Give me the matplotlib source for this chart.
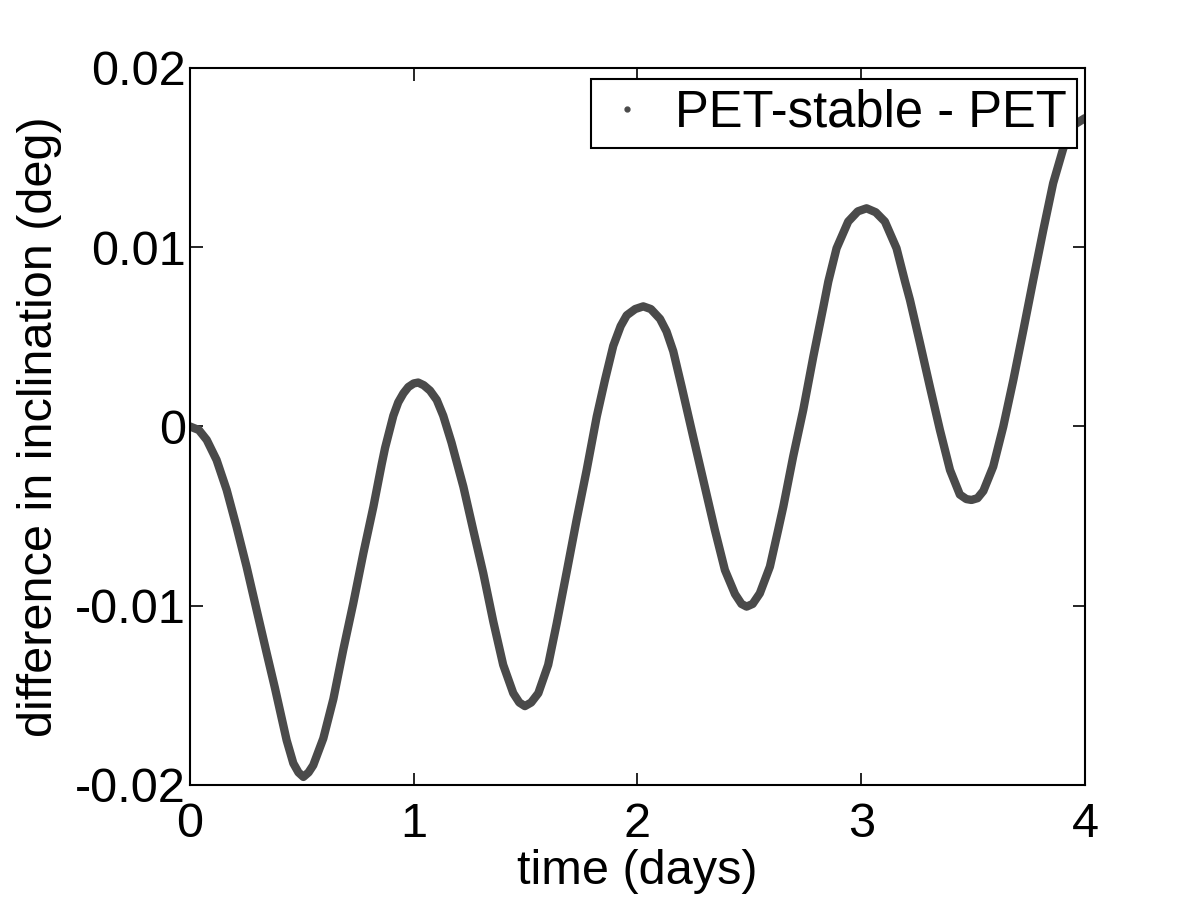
import matplotlib
matplotlib.use("Agg")
import matplotlib.pyplot as plt
from matplotlib.lines import Line2D

'''
    Inclination difference PET-stable minus PET, read off the reference picture
'''

# time (days)
time_days = [0.0, 0.04, 0.075, 0.119, 0.164, 0.208, 0.253, 0.298, 0.343, 0.380,
             0.432, 0.462, 0.485, 0.507, 0.530, 0.551, 0.596, 0.641, 0.685, 0.730,
             0.775, 0.820, 0.857, 0.872, 0.909, 0.931, 0.954, 0.976, 1.000, 1.020,
             1.045, 1.073, 1.103, 1.132, 1.169, 1.184, 1.222, 1.266, 1.311, 1.356,
             1.400, 1.445, 1.472, 1.497, 1.525, 1.557, 1.601, 1.639, 1.684, 1.728,
             1.773, 1.818, 1.855, 1.892, 1.925, 1.952, 1.990, 2.026, 2.060, 2.101,
             2.130, 2.160, 2.198, 2.249, 2.294, 2.346, 2.391, 2.436, 2.465, 2.488,
             2.515, 2.547, 2.592, 2.629, 2.652, 2.696, 2.741, 2.786, 2.831, 2.853,
             2.890, 2.942, 2.985, 3.024, 3.065, 3.106, 3.158, 3.196, 3.218, 3.263,
             3.307, 3.352, 3.397, 3.441, 3.470, 3.493, 3.520, 3.546, 3.590, 3.635,
             3.680, 3.725, 3.769, 3.814, 3.858, 3.903, 3.948, 4.0]

# difference in inclination (millidegrees, scaled below)
diff_mdeg = [0.0, -0.2, -0.75, -1.87, -3.54, -5.59, -7.82, -10.24, -12.65, -14.6,
             -17.5, -18.79, -19.3, -19.55, -19.3, -18.9, -17.4, -15.2, -12.47, -9.86,
             -7.07, -4.47, -2.1, -1.2, 0.6, 1.35, 1.85, 2.2, 2.4, 2.45,
             2.3, 2.0, 1.48, 0.6, -0.9, -1.6, -3.36, -5.77, -8.19, -10.9,
             -13.3, -14.88, -15.4, -15.6, -15.4, -14.88, -13.3, -11.0, -8.1, -5.22,
             -2.43, 0.55, 2.6, 4.5, 5.6, 6.2, 6.55, 6.7, 6.55, 6.0,
             5.3, 4.2, 2.2, -0.57, -2.98, -5.77, -8.01, -9.35, -9.9, -10.05,
             -9.9, -9.31, -7.82, -5.77, -4.47, -1.68, 0.92, 3.89, 6.68, 8.08,
             9.94, 11.43, 12.0, 12.17, 11.95, 11.43, 9.94, 8.08, 7.06, 4.64,
             2.22, -0.20, -2.43, -3.8, -4.05, -4.1, -4.0, -3.6, -2.24, -0.01,
             2.59, 5.38, 8.17, 10.96, 13.57, 15.5, 16.8, 17.2]

diff_deg = [v * 1e-3 for v in diff_mdeg]

x_ticks = [0, 1, 2, 3, 4]
y_ticks = [-0.02, -0.01, 0, 0.01, 0.02]
y_ticklabels = ["-0.02", "-0.01", "0", "0.01", "0.02"]

line_color = "#4a4a4a"

plt.rcParams['font.family'] = ['Liberation Sans', 'DejaVu Sans']

fig = plt.figure(figsize=(12, 9), dpi=100)
ax = fig.add_axes([0.1583, 0.1278, 0.7458, 0.7967])

ax.plot(time_days, diff_deg, '-', color=line_color, lw=6.0,
        solid_capstyle='round', solid_joinstyle='round')

ax.set_xlim(0, 4)
ax.set_ylim(-0.02, 0.02)
ax.set_xticks(x_ticks)
ax.set_yticks(y_ticks)
ax.set_yticklabels(y_ticklabels)

ax.tick_params(direction='in', length=9, width=1.2, top=True, right=True,
               labelsize=35)
ax.tick_params(axis='y', pad=3)
ax.tick_params(axis='x', pad=12)
for sp in ax.spines.values():
    sp.set_linewidth(1.5)

ax.set_xlabel("time (days)", fontsize=35, labelpad=2)
ax.set_ylabel("difference in inclination (deg)", fontsize=35, labelpad=9)

# legend shows a single dot marker
proxy = Line2D([], [], ls='none', marker='.', ms=7, color=line_color)
leg = ax.legend([proxy], ["PET-stable - PET"], loc='upper right',
                bbox_to_anchor=(0.991, 0.985), borderaxespad=0,
                fontsize=36.5, fancybox=False, framealpha=1,
                edgecolor='black', handlelength=1.0, handletextpad=0.45,
                borderpad=0.2)
leg.get_frame().set_linewidth(1.5)

fig.savefig("out.png", dpi=100)
